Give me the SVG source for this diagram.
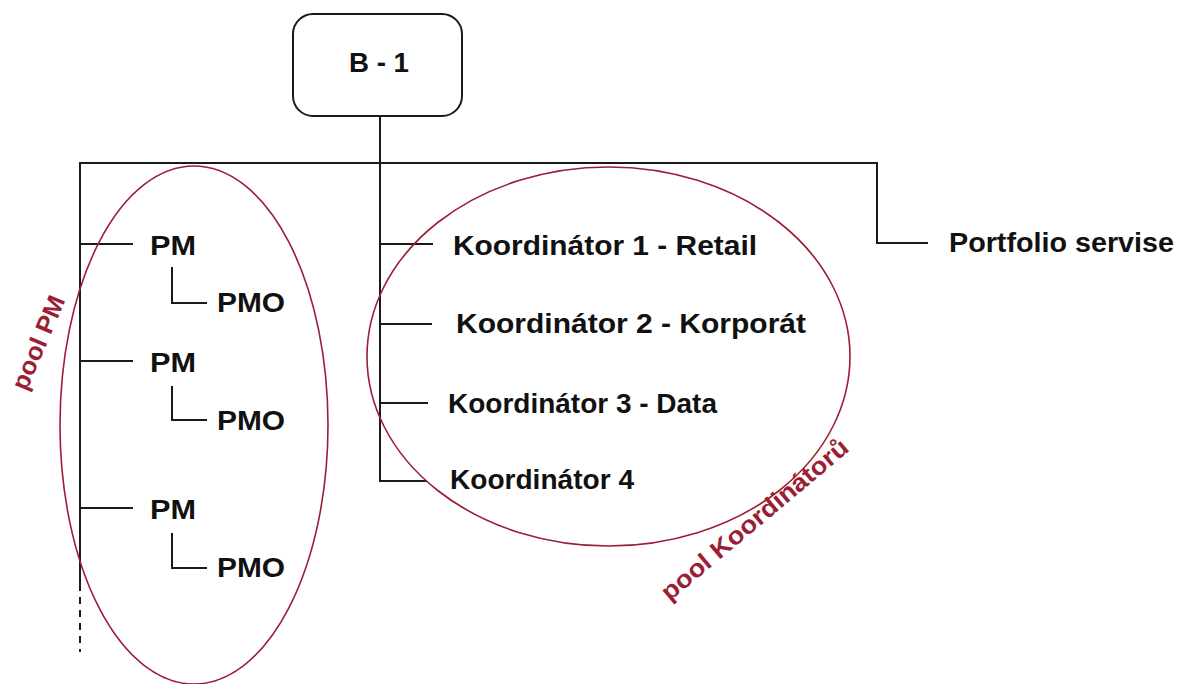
<svg xmlns="http://www.w3.org/2000/svg" width="1178" height="684" viewBox="0 0 1178 684">
  <style>
    .line { fill: none; stroke: #1a1a1a; stroke-width: 2; }
    .label { font-family: "Liberation Sans", Arial, sans-serif; font-weight: bold; font-size: 27px; fill: #111; }
    .pool { fill: none; stroke: #9a1f35; stroke-width: 1.6; }
    .pool-label { font-family: "Liberation Sans", Arial, sans-serif; font-weight: bold; font-size: 25px; fill: #9a1f35; }
  </style>
  <rect width="1178" height="684" fill="#ffffff"/>

  <!-- tree connectors -->
  <g id="connectors">
    <path class="line" d="M380 116 V481 H427"/>
    <path class="line" d="M80 584 V163 H877 V243 H928"/>
    <path class="line" d="M80 584 V652" stroke-dasharray="7 6"/>
    <path class="line" d="M80 244 H133 M80 361 H133 M80 508 H133"/>
    <path class="line" d="M172 267 V303 H207 M172 386 V420 H207 M172 533 V568 H207"/>
    <path class="line" d="M380 244 H433 M380 324 H432 M380 403 H428"/>
  </g>

  <!-- top box -->
  <g id="node-b1">
    <rect x="293" y="14" width="169" height="102" rx="20" ry="20" fill="#fff" stroke="#1a1a1a" stroke-width="2"/>
    <text class="label" x="379" y="72" text-anchor="middle" textLength="60" lengthAdjust="spacingAndGlyphs">B - 1</text>
  </g>

  <!-- project managers -->
  <g id="node-pm1"><text class="label" x="150" y="255" textLength="46" lengthAdjust="spacingAndGlyphs">PM</text></g>
  <g id="node-pmo1"><text class="label" x="217" y="312" textLength="68" lengthAdjust="spacingAndGlyphs">PMO</text></g>
  <g id="node-pm2"><text class="label" x="150" y="372" textLength="46" lengthAdjust="spacingAndGlyphs">PM</text></g>
  <g id="node-pmo2"><text class="label" x="217" y="430" textLength="68" lengthAdjust="spacingAndGlyphs">PMO</text></g>
  <g id="node-pm3"><text class="label" x="150" y="519" textLength="46" lengthAdjust="spacingAndGlyphs">PM</text></g>
  <g id="node-pmo3"><text class="label" x="217" y="577" textLength="68" lengthAdjust="spacingAndGlyphs">PMO</text></g>

  <!-- coordinators -->
  <g id="node-k1"><text class="label" x="453" y="255" textLength="304" lengthAdjust="spacingAndGlyphs">Koordinátor 1 - Retail</text></g>
  <g id="node-k2"><text class="label" x="456" y="333" textLength="350" lengthAdjust="spacingAndGlyphs">Koordinátor 2 - Korporát</text></g>
  <g id="node-k3"><text class="label" x="448" y="413" textLength="269" lengthAdjust="spacingAndGlyphs">Koordinátor 3 - Data</text></g>
  <g id="node-k4"><text class="label" x="450" y="489" textLength="184" lengthAdjust="spacingAndGlyphs">Koordinátor 4</text></g>

  <!-- portfolio -->
  <g id="node-portfolio"><text class="label" x="949" y="252" textLength="225" lengthAdjust="spacingAndGlyphs">Portfolio servise</text></g>

  <!-- pools -->
  <g id="pool-pm">
    <ellipse class="pool" cx="194" cy="425" rx="134" ry="259"/>
    <text class="pool-label" transform="translate(46,346) rotate(-67)" text-anchor="middle" textLength="100" lengthAdjust="spacingAndGlyphs">pool PM</text>
  </g>
  <g id="pool-koordinatoru">
    <ellipse class="pool" cx="608.5" cy="356.5" rx="241.5" ry="189.5"/>
    <text class="pool-label" transform="translate(760,526) rotate(-40)" text-anchor="middle" textLength="236" lengthAdjust="spacingAndGlyphs">pool Koordinátorů</text>
  </g>
</svg>
